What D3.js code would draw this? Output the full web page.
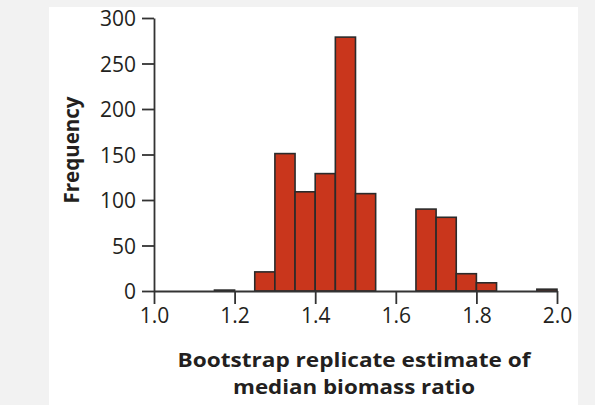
<!DOCTYPE html>
<html><head><meta charset="utf-8">
<script src="https://cdn.jsdelivr.net/npm/d3@7"></script>
<style>
html,body{margin:0;padding:0;background:#f2f2f2;}
svg{display:block;}
text{font-family:"Open Sans",sans-serif;fill:#231f20;}
</style></head>
<body>
<svg id="c" width="602" height="405"></svg>
<script>
// Data
const binStarts = [1.15, 1.20, 1.25, 1.30, 1.35, 1.40, 1.45, 1.50, 1.55, 1.60, 1.65, 1.70, 1.75, 1.80, 1.85, 1.90, 1.95];
const counts    = [1,    0,    21,   151,  109,  129,  279,  107,  0,    0,    90,   81,   19,   9,    0,    0,    2];
const binWidth = 0.05;
const xTicks = [1.0, 1.2, 1.4, 1.6, 1.8, 2.0];
const yTicks = [0, 50, 100, 150, 200, 250, 300];
const xTitle = ["Bootstrap replicate estimate of", "median biomass ratio"];
const yTitle = "Frequency";

const svg = d3.select("#c");
// white panel
svg.append("rect").attr("x",49).attr("y",7).attr("width",529).attr("height",398).attr("fill","#fff");
svg.append("rect").attr("x",595).attr("y",0).attr("width",7).attr("height",405).attr("fill","#fff");

const x = d3.scaleLinear().domain([1.0, 2.0]).range([154, 557]);
const y = d3.scaleLinear().domain([0, 300]).range([291, 18]);

const data = binStarts.map((b,i)=>({b, c:counts[i]})).filter(d=>d.c>0);

svg.append("g").selectAll("rect").data(data).join("rect")
  .attr("x", d=>x(d.b))
  .attr("y", d=>y(d.c))
  .attr("width", d=>x(d.b+binWidth)-x(d.b))
  .attr("height", d=>y(0)-y(d.c))
  .attr("fill","#c9361c")
  .attr("stroke","#2b2b2b")
  .attr("stroke-width",1.6);

// axes
const xAxis = d3.axisBottom(x).tickValues(xTicks).tickFormat(d3.format(".1f")).tickSize(13).tickSizeOuter(0).tickPadding(4);
const gx = svg.append("g").attr("transform",`translate(0,${y(0)})`).call(xAxis);
const yAxis = d3.axisLeft(y).tickValues(yTicks).tickSize(12).tickSizeOuter(0).tickPadding(6);
const gy = svg.append("g").attr("transform",`translate(${x(1.0)},0)`).call(yAxis);
[gx,gy].forEach(g=>{
  g.attr("font-size",null).attr("font-family",null);
  g.selectAll("path,line").attr("stroke","#333").attr("stroke-width",1.8);
  g.selectAll("text").style("font-family","'Open Sans', sans-serif").style("font-size","21px").style("fill","#231f20");
});
gy.selectAll("text").attr("dy","0.36em");
gx.selectAll("text").attr("dy","0.72em");

// titles
const t1 = svg.append("text").attr("x",354).attr("y",367).attr("text-anchor","middle")
  .style("font-size","19.5px").style("font-weight","bold").text(xTitle[0]);
const t2 = svg.append("text").attr("x",354).attr("y",394).attr("text-anchor","middle")
  .style("font-size","19.5px").style("font-weight","bold").text(xTitle[1]);
t1.attr("textLength",353).attr("lengthAdjust","spacingAndGlyphs");
t2.attr("textLength",242).attr("lengthAdjust","spacingAndGlyphs");
svg.append("text").attr("transform","translate(79,150) rotate(-90)").attr("text-anchor","middle")
  .style("font-size","21px").style("font-weight","bold").attr("textLength",107).attr("lengthAdjust","spacingAndGlyphs").text(yTitle);
</script>
</body></html>
